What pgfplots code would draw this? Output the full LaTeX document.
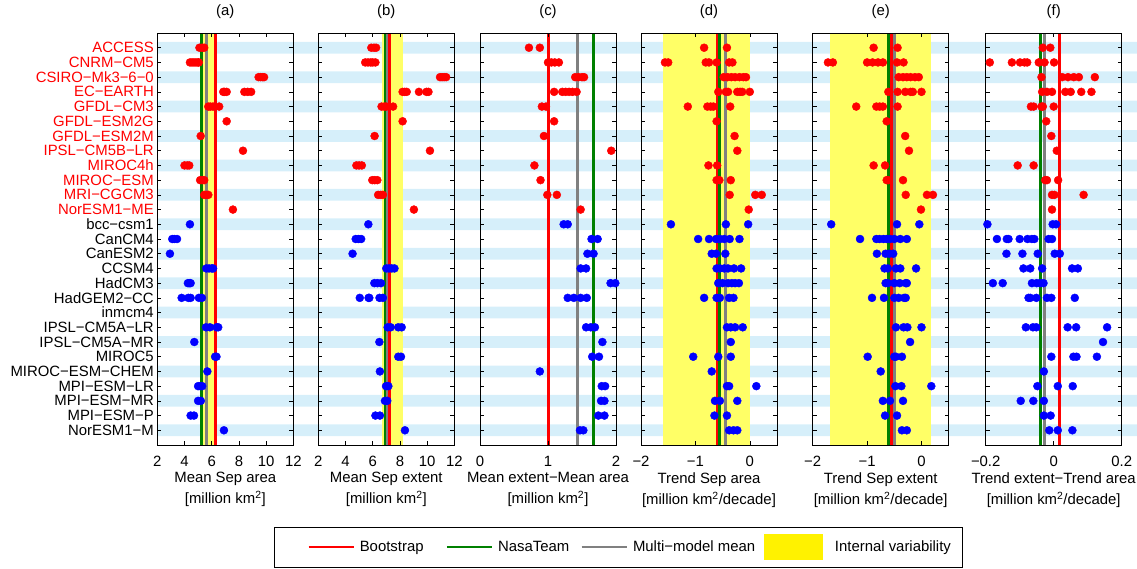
\documentclass[border=0pt]{standalone}
\usepackage{fontspec}
\setmainfont{Liberation Sans}
\usepackage{pgfplots}
\pgfplotsset{compat=1.18}
\definecolor{stripe}{RGB}{214,239,250}
\definecolor{band}{RGB}{255,255,102}
\definecolor{mgreen}{RGB}{0,128,0}
\definecolor{mgray}{RGB}{128,128,128}
\newcommand{\fs}{\fontsize{14.9}{17}\selectfont}
\pgfplotsset{
  panel/.style={
    scale only axis, width=136pt, height=412pt, anchor=south west,
    ymin=0, ymax=28, y dir=reverse, ytick={1,...,27}, yticklabels={},
    tick align=inside, tick pos=both, major tick length=4pt,
    axis line style={line width=0.8pt},
    every tick/.style={black, line width=0.6pt},
    clip=false, axis on top,
    tick label style={font=\fs},
    xticklabel style={yshift=-8pt},
    xlabel style={at={(axis description cs:0.5,0)}, anchor=north, yshift=-24pt, align=center, font=\fontsize{14.9}{21}\selectfont},
    title style={font=\fs, yshift=5pt},
  },
  rdot/.style={only marks, mark=*, mark size=4pt, color=red},
  bdot/.style={only marks, mark=*, mark size=4pt, color=blue},
  vl/.style={line width=3pt},
}
\begin{document}
\begin{tikzpicture}
\useasboundingbox (0pt,0pt) rectangle (1137pt,568pt);
% background stripes
\begin{axis}[scale only axis, at={(157.3pt,123pt)}, anchor=south west, width=985pt, height=412pt,
  xmin=0, xmax=1, ymin=0, ymax=28, y dir=reverse, hide axis, clip=false]
\addplot[xbar, bar width=0.8, fill=stripe, draw=none] coordinates {(1,1) (1,3) (1,5) (1,7) (1,9) (1,11) (1,13) (1,15) (1,17) (1,19) (1,21) (1,23) (1,25) (1,27)};
\end{axis}
% (a)
\begin{axis}[panel, at={(157.3pt,123pt)}, xmin=2, xmax=12, xtick={2,4,6,8,10,12}, xticklabels={2,4,6,8,10,12},
  title={(a)}, xlabel={Mean Sep area\\{[million km\textsuperscript{2}]}},
  yticklabels={\textcolor{red}{ACCESS},\textcolor{red}{CNRM−CM5},\textcolor{red}{CSIRO−Mk3−6−0},\textcolor{red}{EC−EARTH},\textcolor{red}{GFDL−CM3},\textcolor{red}{GFDL−ESM2G},\textcolor{red}{GFDL−ESM2M},\textcolor{red}{IPSL−CM5B−LR},\textcolor{red}{MIROC4h},\textcolor{red}{MIROC−ESM},\textcolor{red}{MRI−CGCM3},\textcolor{red}{NorESM1−ME},bcc−csm1,CanCM4,CanESM2,CCSM4,HadCM3,HadGEM2−CC,inmcm4,IPSL−CM5A−LR,IPSL−CM5A−MR,MIROC5,MIROC−ESM−CHEM,MPI−ESM−LR,MPI−ESM−MR,MPI−ESM−P,NorESM1−M}]
\addplot[fill=band, draw=none] coordinates {(5.37,0) (6.25,0) (6.25,28) (5.37,28)} -- cycle;
\addplot[rdot] coordinates {(5.1,1) (5.3,1) (5.45,1) (4.4,2) (4.55,2) (4.7,2) (4.85,2) (5.0,2) (5.05,2) (9.45,3) (9.6,3) (9.75,3) (9.85,3) (6.85,4) (6.95,4) (7.1,4) (8.4,4) (8.65,4) (8.9,4) (5.75,5) (5.9,5) (6.1,5) (6.55,5) (7.1,6) (5.19,7) (8.3,8) (4.0,9) (4.2,9) (4.35,9) (5.15,10) (5.3,10) (5.45,10) (5.45,11) (5.6,11) (5.75,11) (7.56,12)};
\addplot[bdot] coordinates {(4.4,13) (3.1,14) (3.25,14) (3.45,14) (2.93,15) (5.6,16) (5.8,16) (6.0,16) (6.1,16) (4.25,17) (4.35,17) (4.45,17) (3.79,18) (4.28,18) (4.45,18) (5.06,18) (5.28,18) (5.58,20) (5.87,20) (6.36,20) (6.48,20) (4.72,21) (6.25,22) (6.35,22) (5.68,23) (5.0,24) (5.15,24) (5.3,24) (5.0,25) (5.2,25) (4.45,26) (4.7,26) (6.9,27)};
\addplot[vl, mgreen] coordinates {(5.24,0) (5.24,28)};
\addplot[vl, mgray] coordinates {(5.65,0) (5.65,28)};
\addplot[vl, red] coordinates {(6.29,0) (6.29,28)};
\end{axis}
% (b)
\begin{axis}[panel, at={(318.3pt,123pt)}, xmin=2, xmax=12, xtick={2,4,6,8,10,12}, xticklabels={2,4,6,8,10,12},
  title={(b)}, xlabel={Mean Sep extent\\{[million km\textsuperscript{2}]}}]
\addplot[fill=band, draw=none] coordinates {(6.66,0) (8.21,0) (8.21,28) (6.66,28)} -- cycle;
\addplot[rdot] coordinates {(5.9,1) (6.1,1) (6.25,1) (5.45,2) (5.65,2) (5.85,2) (6.0,2) (6.2,2) (10.95,3) (11.1,3) (11.25,3) (11.4,3) (8.2,4) (8.35,4) (8.5,4) (9.4,4) (9.95,4) (10.1,4) (6.65,5) (6.85,5) (7.0,5) (7.5,5) (8.2,6) (6.14,7) (10.21,8) (4.8,9) (5.0,9) (5.2,9) (5.97,10) (6.15,10) (6.34,10) (6.4,11) (6.6,11) (6.75,11) (9.03,12)};
\addplot[bdot] coordinates {(5.68,13) (4.75,14) (4.95,14) (5.15,14) (4.52,15) (7.0,16) (7.2,16) (7.4,16) (7.6,16) (6.12,17) (6.35,17) (6.61,17) (5.05,18) (5.7,18) (5.75,18) (6.5,18) (6.75,18) (7.1,20) (7.32,20) (7.88,20) (8.13,20) (6.49,21) (7.88,22) (8.08,22) (6.53,23) (6.98,24) (7.15,24) (6.9,25) (7.07,25) (6.2,26) (6.53,26) (8.37,27)};
\addplot[vl, mgreen] coordinates {(6.93,0) (6.93,28)};
\addplot[vl, mgray] coordinates {(7.1,0) (7.1,28)};
\addplot[vl, red] coordinates {(7.27,0) (7.27,28)};
\end{axis}
% (c)
\begin{axis}[panel, at={(480pt,123pt)}, xmin=0, xmax=2, xtick={0,1,2}, xticklabels={0,1,2},
  title={(c)}, xlabel={Mean extent−Mean area\\{[million km\textsuperscript{2}]}}]
\addplot[rdot] coordinates {(0.72,1) (0.88,1) (1.0,2) (1.05,2) (1.1,2) (1.16,2) (1.4,3) (1.45,3) (1.5,3) (1.53,3) (1.09,4) (1.21,4) (1.26,4) (1.31,4) (1.36,4) (1.42,4) (0.91,5) (0.97,5) (1.09,6) (0.94,7) (1.93,8) (0.80,9) (0.89,10) (0.99,11) (1.13,11) (1.48,12)};
\addplot[bdot] coordinates {(1.23,13) (1.29,13) (1.64,14) (1.73,14) (1.58,15) (1.67,15) (1.48,16) (1.56,16) (1.92,17) (1.99,17) (1.29,18) (1.38,18) (1.48,18) (1.57,18) (1.56,20) (1.63,20) (1.69,20) (1.80,21) (1.65,22) (1.75,22) (0.88,23) (1.79,24) (1.84,24) (1.78,25) (1.83,25) (1.74,26) (1.83,26) (1.47,27) (1.52,27)};
\addplot[vl, red] coordinates {(1.0,0) (1.0,28)};
\addplot[vl, mgray] coordinates {(1.44,0) (1.44,28)};
\addplot[vl, mgreen] coordinates {(1.67,0) (1.67,28)};
\end{axis}
% (d)
\begin{axis}[panel, at={(641pt,123pt)}, xmin=-2, xmax=0.5, xtick={-2,-1,0}, xticklabels={−2,−1,0},
  title={(d)}, xlabel={Trend Sep area\\{[million km\textsuperscript{2}/decade]}}]
\addplot[fill=band, draw=none] coordinates {(-1.59,0) (0,0) (0,28) (-1.59,28)} -- cycle;
\addplot[rdot] coordinates {(-0.84,1) (-0.42,1) (-1.56,2) (-1.50,2) (-0.81,2) (-0.75,2) (-0.61,2) (-0.38,2) (-0.32,2) (-0.48,3) (-0.41,3) (-0.34,3) (-0.27,3) (-0.19,3) (-0.12,3) (-0.07,3) (-0.58,4) (-0.44,4) (-0.40,4) (-0.23,4) (-0.18,4) (-0.14,4) (0.0,4) (-1.14,5) (-0.78,5) (-0.72,5) (-0.67,5) (-0.36,5) (-0.61,6) (-0.28,7) (-0.23,8) (-0.76,9) (-0.60,9) (-0.61,10) (-0.56,10) (-0.35,10) (-0.37,11) (0.10,11) (0.22,11) (-0.02,12)};
\addplot[bdot] coordinates {(-1.45,13) (-0.44,13) (-0.03,13) (-0.95,14) (-0.75,14) (-0.62,14) (-0.55,14) (-0.47,14) (-0.37,14) (-0.19,14) (-0.70,15) (-0.62,15) (-0.45,15) (-0.61,16) (-0.55,16) (-0.47,16) (-0.40,16) (-0.29,16) (-0.16,16) (-0.58,17) (-0.50,17) (-0.40,17) (-0.33,17) (-0.27,17) (-0.20,17) (-0.84,18) (-0.61,18) (-0.55,18) (-0.38,18) (-0.30,18) (-0.42,20) (-0.35,20) (-0.27,20) (-0.13,20) (-0.35,21) (-1.04,22) (-0.58,22) (-0.35,22) (-0.70,23) (-0.42,24) (-0.38,24) (0.12,24) (-0.64,25) (-0.55,25) (-0.23,25) (-0.65,26) (-0.42,26) (-0.38,27) (-0.30,27) (-0.23,27)};
\addplot[vl, red] coordinates {(-0.59,0) (-0.59,28)};
\addplot[vl, mgreen] coordinates {(-0.55,0) (-0.55,28)};
\addplot[vl, mgray] coordinates {(-0.455,0) (-0.455,28)};
\end{axis}
% (e)
\begin{axis}[panel, at={(812.7pt,123pt)}, xmin=-2, xmax=0.5, xtick={-2,-1,0}, xticklabels={−2,−1,0},
  title={(e)}, xlabel={Trend Sep extent\\{[million km\textsuperscript{2}/decade]}}]
\addplot[fill=band, draw=none] coordinates {(-1.69,0) (0.17,0) (0.17,28) (-1.69,28)} -- cycle;
\addplot[rdot] coordinates {(-0.88,1) (-0.44,1) (-1.72,2) (-1.63,2) (-1.0,2) (-0.9,2) (-0.8,2) (-0.71,2) (-0.45,2) (-0.33,2) (-0.42,3) (-0.34,3) (-0.27,3) (-0.20,3) (-0.12,3) (-0.05,3) (-0.61,4) (-0.44,4) (-0.30,4) (-0.20,4) (-0.16,4) (0.0,4) (-1.2,5) (-0.83,5) (-0.77,5) (-0.71,5) (-0.44,5) (-0.64,6) (-0.30,7) (-0.23,8) (-0.88,9) (-0.67,9) (-0.64,10) (-0.61,10) (-0.34,10) (-0.29,11) (0.10,11) (0.21,11) (-0.01,12)};
\addplot[bdot] coordinates {(-1.66,13) (-0.45,13) (-0.04,13) (-1.13,14) (-0.83,14) (-0.77,14) (-0.70,14) (-0.64,14) (-0.58,14) (-0.50,14) (-0.39,14) (-0.27,14) (-0.82,15) (-0.66,15) (-0.59,15) (-0.52,15) (-0.68,16) (-0.62,16) (-0.47,16) (-0.39,16) (-0.10,16) (-0.66,17) (-0.62,17) (-0.50,17) (-0.40,17) (-0.29,17) (-0.27,17) (-0.91,18) (-0.69,18) (-0.50,18) (-0.42,18) (-0.32,18) (-0.29,18) (-0.47,20) (-0.33,20) (-0.26,20) (0.0,20) (-0.21,21) (-0.99,22) (-0.50,22) (-0.47,22) (-0.36,22) (-0.75,23) (-0.48,24) (-0.37,24) (0.18,24) (-0.71,25) (-0.58,25) (-0.34,25) (-0.67,26) (-0.45,26) (-0.36,27) (-0.27,27)};
\addplot[vl, mgreen] coordinates {(-0.60,0) (-0.60,28)};
\addplot[vl, red] coordinates {(-0.55,0) (-0.55,28)};
\addplot[vl, mgray] coordinates {(-0.49,0) (-0.49,28)};
\end{axis}
% (f)
\begin{axis}[panel, at={(985.7pt,123pt)}, xmin=-0.2, xmax=0.2, xtick={-0.2,0,0.2}, xticklabels={−0.2,0,0.2},
  title={(f)}, xlabel={Trend extent−Trend area\\{[million km\textsuperscript{2}/decade]}}]
\addplot[vl, mgreen] coordinates {(-0.04,0) (-0.04,28)};
\addplot[vl, mgray] coordinates {(-0.026,0) (-0.026,28)};
\addplot[vl, red] coordinates {(0.0165,0) (0.0165,28)};
\addplot[rdot] coordinates {(-0.032,1) (-0.010,1) (-0.188,2) (-0.123,2) (-0.099,2) (-0.086,2) (-0.078,2) (-0.044,2) (-0.027,2) (0.001,2) (-0.036,3) (0.025,3) (0.042,3) (0.059,3) (0.074,3) (0.121,3) (-0.034,4) (-0.020,4) (-0.005,4) (0.034,4) (0.050,4) (0.081,4) (0.111,4) (-0.067,5) (-0.059,5) (-0.036,5) (-0.032,5) (0.0,5) (-0.022,6) (-0.007,7) (0.009,8) (-0.106,9) (-0.059,9) (-0.025,10) (-0.020,10) (0.013,10) (-0.005,11) (0.002,11) (0.088,11) (-0.005,12)};
\addplot[bdot] coordinates {(-0.195,13) (-0.003,13) (0.007,13) (-0.167,14) (-0.138,14) (-0.133,14) (-0.100,14) (-0.077,14) (-0.064,14) (-0.057,14) (-0.015,14) (-0.005,14) (-0.139,15) (-0.092,15) (-0.047,15) (0.003,15) (0.018,15) (-0.089,16) (-0.069,16) (-0.034,16) (0.054,16) (0.071,16) (-0.179,17) (-0.150,17) (-0.064,17) (-0.050,17) (-0.040,17) (-0.030,17) (-0.074,18) (-0.069,18) (-0.051,18) (-0.020,18) (-0.007,18) (0.062,18) (-0.082,20) (-0.061,20) (-0.051,20) (0.041,20) (0.066,20) (0.157,20) (0.145,21) (-0.007,22) (0.058,22) (0.067,22) (0.127,22) (-0.029,23) (-0.048,24) (0.012,24) (0.056,24) (-0.097,25) (-0.060,25) (-0.029,25) (-0.029,26) (-0.009,26) (-0.013,27) (0.012,27) (0.055,27)};
\end{axis}
% legend
\begin{axis}[scale only axis, at={(274pt,1pt)}, anchor=south west, width=688pt, height=40pt,
  hide axis, xmin=0, xmax=1, ymin=0, ymax=1,
  legend columns=4,
  legend style={at={(0.5,0.5)}, anchor=center, draw=black, line width=0.8pt, font=\fs,
    inner xsep=6pt, inner ysep=7pt, nodes={inner xsep=5pt},
    /tikz/column 2/.style={column sep=17pt},
    /tikz/column 4/.style={column sep=6pt},
    /tikz/column 6/.style={column sep=4pt}},
  legend image code/.code={\draw[#1] (0pt,0pt) -- (45pt,0pt);}]
\addlegendimage{legend image code/.code={\path (-28pt,0pt); \draw[red, line width=2.6pt] (0pt,0pt) -- (45pt,0pt);}}
\addlegendentry{Bootstrap}
\addlegendimage{legend image code/.code={\draw[mgreen, line width=2.6pt] (0pt,0pt) -- (45pt,0pt);}}
\addlegendentry{NasaTeam}
\addlegendimage{legend image code/.code={\draw[mgray, line width=2.6pt] (0pt,0pt) -- (45pt,0pt);}}
\addlegendentry{Multi−model mean}
\addlegendimage{legend image code/.code={\fill[yellow] (0pt,-12.5pt) rectangle (58pt,12.5pt); \path (65pt,0pt);}}
\addlegendentry{Internal variability}
\end{axis}
\end{tikzpicture}
\end{document}
